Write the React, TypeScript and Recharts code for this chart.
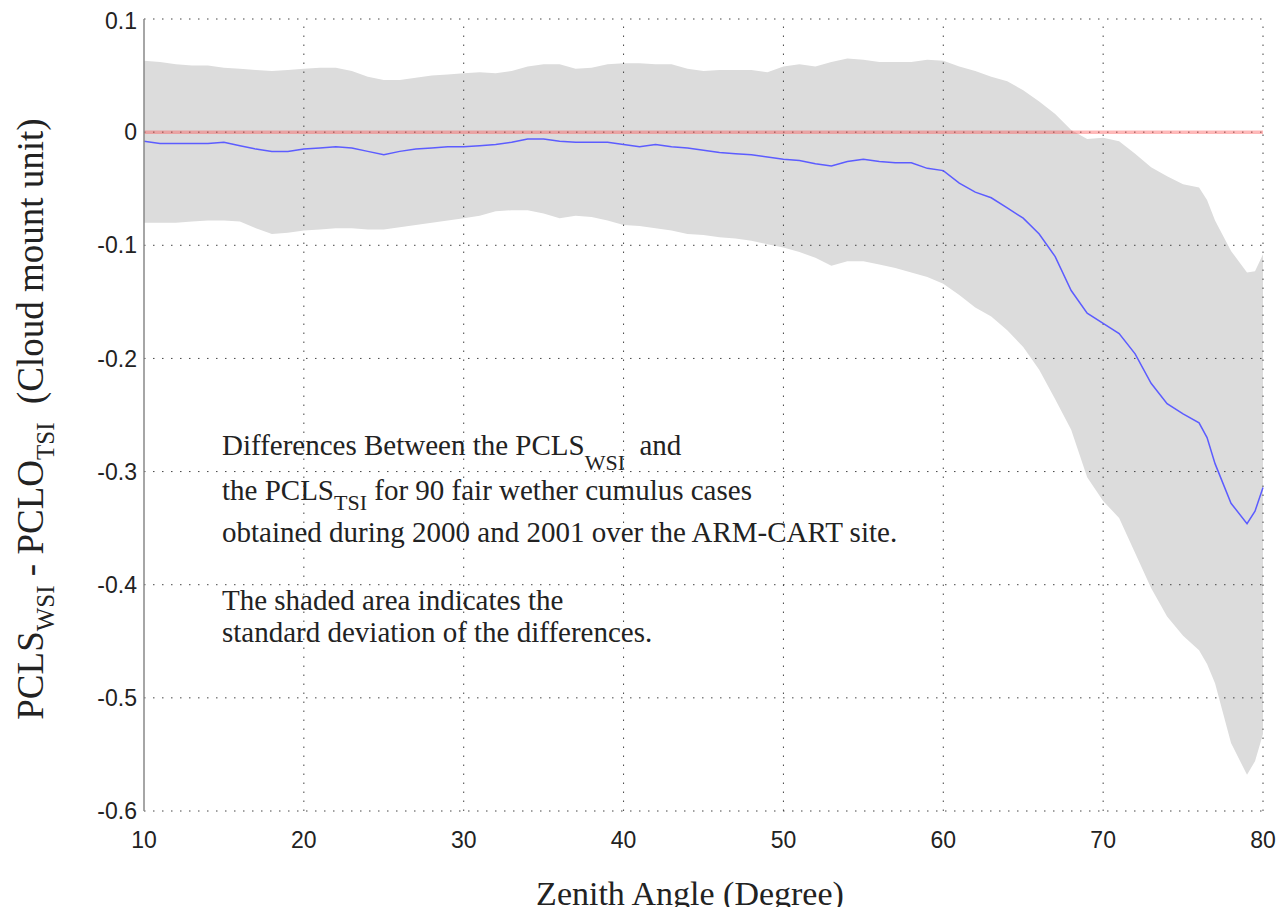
import React from 'react';
import { ComposedChart, Area, Line, XAxis, YAxis, ReferenceLine } from 'recharts';

// zenith angle (degree)
const angles = [
  10, 11, 12, 13, 14, 15, 16, 17, 18, 19, 20, 21, 22, 23, 24, 25, 26, 27, 28, 29,
  30, 31, 32, 33, 34, 35, 36, 37, 38, 39, 40, 41, 42, 43, 44, 45, 46, 47, 48, 49,
  50, 51, 52, 53, 54, 55, 56, 57, 58, 59, 60, 61, 62, 63, 64, 65, 66, 67, 68, 69,
  70, 71, 72, 73, 74, 75, 76, 76.5, 77, 78, 79, 79.5, 80,
];

// mean difference PCLS_WSI - PCLO_TSI
const meanDiff = [
  -0.008, -0.01, -0.01, -0.01, -0.01, -0.009, -0.012, -0.015, -0.017, -0.017,
  -0.015, -0.014, -0.013, -0.014, -0.017, -0.02, -0.017, -0.015, -0.014, -0.013,
  -0.013, -0.012, -0.011, -0.009, -0.006, -0.006, -0.008, -0.009, -0.009, -0.009,
  -0.011, -0.013, -0.011, -0.013, -0.014, -0.016, -0.018, -0.019, -0.02, -0.022,
  -0.024, -0.025, -0.028, -0.03, -0.026, -0.024, -0.026, -0.027, -0.027, -0.032,
  -0.034, -0.045, -0.053, -0.058, -0.067, -0.076, -0.09, -0.11, -0.14, -0.16,
  -0.169, -0.178, -0.196, -0.222, -0.24, -0.249, -0.257, -0.27, -0.293, -0.328,
  -0.346, -0.335, -0.314,
];

// mean + std
const upperBand = [
  0.063, 0.062, 0.06, 0.059, 0.059, 0.057, 0.056, 0.055, 0.054, 0.055,
  0.056, 0.057, 0.057, 0.054, 0.049, 0.046, 0.046, 0.048, 0.05, 0.051,
  0.052, 0.053, 0.052, 0.054, 0.058, 0.06, 0.06, 0.056, 0.057, 0.06,
  0.061, 0.061, 0.06, 0.06, 0.056, 0.054, 0.055, 0.055, 0.055, 0.053,
  0.058, 0.06, 0.058, 0.062, 0.065, 0.064, 0.062, 0.062, 0.062, 0.064,
  0.063, 0.058, 0.054, 0.049, 0.045, 0.037, 0.027, 0.016, 0.002, -0.006,
  -0.005, -0.008, -0.019, -0.031, -0.039, -0.046, -0.049, -0.06, -0.078, -0.105,
  -0.124, -0.123, -0.108,
];

// mean - std
const lowerBand = [
  -0.08, -0.08, -0.08, -0.079, -0.078, -0.078, -0.079, -0.085, -0.09, -0.089,
  -0.087, -0.086, -0.085, -0.085, -0.086, -0.086, -0.084, -0.082, -0.08, -0.078,
  -0.076, -0.074, -0.07, -0.069, -0.069, -0.072, -0.076, -0.074, -0.075, -0.078,
  -0.082, -0.083, -0.085, -0.087, -0.09, -0.091, -0.093, -0.094, -0.096, -0.099,
  -0.102, -0.106, -0.111, -0.118, -0.114, -0.114, -0.117, -0.12, -0.124, -0.128,
  -0.134, -0.144, -0.155, -0.163, -0.175, -0.19, -0.21, -0.236, -0.263, -0.305,
  -0.326, -0.341, -0.372, -0.403, -0.428, -0.445, -0.458, -0.47, -0.487, -0.54,
  -0.568, -0.556, -0.532,
];

const xTicks = [10, 20, 30, 40, 50, 60, 70, 80];
const yTicks = [-0.6, -0.5, -0.4, -0.3, -0.2, -0.1, 0, 0.1];

const data = angles.map((a, i) => ({
  angle: a,
  mean: meanDiff[i],
  band: [lowerBand[i], upperBand[i]],
}));

const serif = '"Liberation Serif", "DejaVu Serif", serif';
const sans = '"Liberation Sans", Arial, sans-serif';
const gridDash = '1.5 7.5';

const Sub = ({ children, shift, size }: { children: React.ReactNode; shift: number; size: number }) => (
  <span style={{ fontSize: size, position: 'relative', top: shift }}>{children}</span>
);

const XTick = (props: any) => {
  const { x, y, payload } = props;
  return (
    <text x={x} y={y} dy={37} textAnchor="middle" fill="#222" fontSize={23} fontFamily={sans}>
      {payload.value}
    </text>
  );
};

const lineStyle = (top: number): React.CSSProperties => ({
  position: 'absolute',
  left: 214,
  top,
  fontFamily: serif,
  fontSize: 29,
  lineHeight: '29px',
  color: '#222',
  whiteSpace: 'nowrap',
});

export default function App() {
  return (
    <div style={{ position: 'relative', width: 1271, height: 899 }}>
      <ComposedChart
        width={1271}
        height={899}
        data={data}
        margin={{ top: 11, right: 16, bottom: 56, left: 56 }}
      >
        <XAxis
          type="number"
          dataKey="angle"
          domain={[10, 80]}
          ticks={xTicks}
          axisLine={false}
          tickLine={false}
          tickSize={0}
          tickMargin={0}
          tick={<XTick />}
          height={40}
        />
        <YAxis
          type="number"
          domain={[-0.6, 0.1]}
          ticks={yTicks}
          width={80}
          axisLine={{ stroke: '#888', strokeWidth: 1.5 }}
          tickLine={false}
          tickSize={5}
          tickMargin={2}
          tickFormatter={(v: number) => String(Number(v.toFixed(1)))}
          tick={{ fill: '#222', fontSize: 23, fontFamily: sans }}
        />
        <Area
          dataKey="band"
          type="linear"
          fill="#dcdcdc"
          fillOpacity={1}
          stroke="none"
          isAnimationActive={false}
        />
        {xTicks.slice(1).map((t) => (
          <ReferenceLine key={'gx' + t} x={t} stroke="#444" strokeDasharray={gridDash} />
        ))}
        {yTicks.map((t) => (
          <ReferenceLine key={'gy' + t} y={t} stroke="#444" strokeDasharray={gridDash} />
        ))}
        <ReferenceLine y={0} stroke="rgba(255,70,70,0.38)" strokeWidth={3.5} />
        <Line
          dataKey="mean"
          type="linear"
          stroke="#5c5cff"
          strokeWidth={1.5}
          dot={false}
          isAnimationActive={false}
        />
      </ComposedChart>

      <div
        style={{
          position: 'absolute',
          left: 22,
          top: 411,
          transform: 'translate(-50%, -50%) rotate(-90deg)',
          fontFamily: serif,
          fontSize: 37,
          color: '#222',
          whiteSpace: 'nowrap',
        }}
      >
        PCLS<Sub shift={11} size={25}>WSI</Sub> - PCLO<Sub shift={11} size={25}>TSI</Sub>&nbsp;&nbsp;(Cloud mount unit)
      </div>

      <div
        style={{
          position: 'absolute',
          left: 682,
          top: 867,
          transform: 'translateX(-50%)',
          fontFamily: serif,
          fontSize: 34,
          color: '#222',
          whiteSpace: 'nowrap',
        }}
      >
        Zenith Angle (Degree)
      </div>

      <div style={lineStyle(423)}>
        Differences Between the PCLS<Sub shift={15} size={22}>WSI</Sub>&nbsp; and
      </div>
      <div style={lineStyle(468)}>
        the PCLS<Sub shift={10} size={22}>TSI</Sub> for 90 fair wether cumulus cases
      </div>
      <div style={lineStyle(510)}>obtained during 2000 and 2001 over the ARM-CART site.</div>
      <div style={lineStyle(578)}>The shaded area indicates the</div>
      <div style={lineStyle(610)}>standard deviation of the differences.</div>
    </div>
  );
}
